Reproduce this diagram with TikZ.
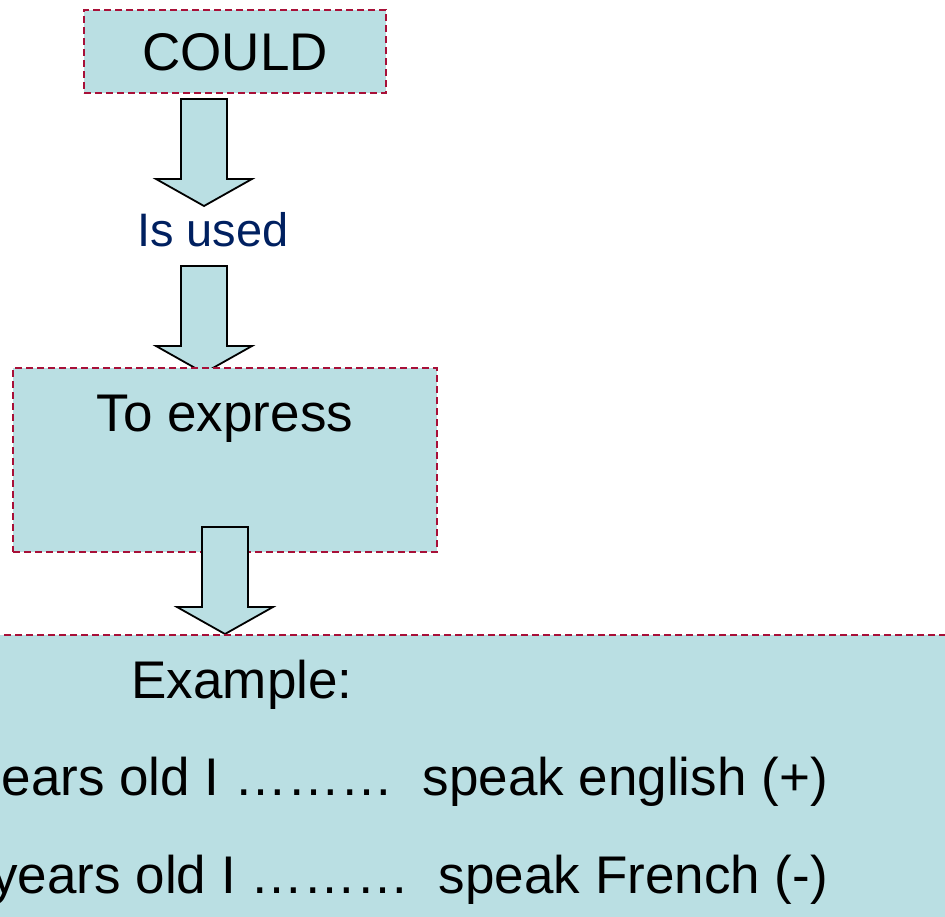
\documentclass[tikz,border=0pt]{standalone}
\usepackage{fontspec}
\setmainfont{Liberation Sans}
\definecolor{boxfill}{RGB}{186,223,227}
\definecolor{boxline}{RGB}{168,16,56}
\definecolor{usedblue}{RGB}{0,32,96}
\tikzset{
  dashbox/.style={fill=boxfill, draw=boxline, line width=1.6pt, dash pattern=on 7pt off 4pt},
  bigtext/.style={font=\fontsize{53}{60}\selectfont, inner sep=0pt, anchor=base},
  downarrow/.pic={
    \draw[fill=boxfill, line width=1.8pt, line join=miter]
      (-23,0) -- (23,0) -- (23,80) -- (48,80) -- (0,107) -- (-48,80) -- (-23,80) -- cycle;
  }
}
\begin{document}
\begin{tikzpicture}[x=1pt, y=-1pt]
    \useasboundingbox (0,0) rectangle (945,917);
    \clip (0,0) rectangle (945,917);

    % COULD
    \node[dashbox, minimum width=302pt, minimum height=83pt] (could) at (235,51.5) {};
    \node[bigtext] (couldtext) at (235,71) {COULD};

    % 矢印1
    \pic at (204,99) {downarrow};

    % Is used
    \node[bigtext, font=\fontsize{47}{54}\selectfont, text=usedblue] (used) at (213,247) {Is used};

    % 矢印2
    \pic at (204,266) {downarrow};

    % To express
    \node[dashbox, minimum width=424pt, minimum height=184pt] (express) at (225,460) {};
    \node[bigtext] (expresstext) at (225,431) {To express};

    % 矢印3
    \pic at (225,527) {downarrow};

    % Example
    \node[dashbox, minimum width=990pt, minimum height=320pt] (example) at (472,795) {};
    \node[bigtext] (extitle) at (242,698) {Example:};
    \node[bigtext, anchor=base east] (exone) at (828,795) {ears old I ………\ \ speak english (+)};
    \node[bigtext, anchor=base east] (extwo) at (828,893) {years old I ………\ \ speak French (-)};
\end{tikzpicture}
\end{document}
